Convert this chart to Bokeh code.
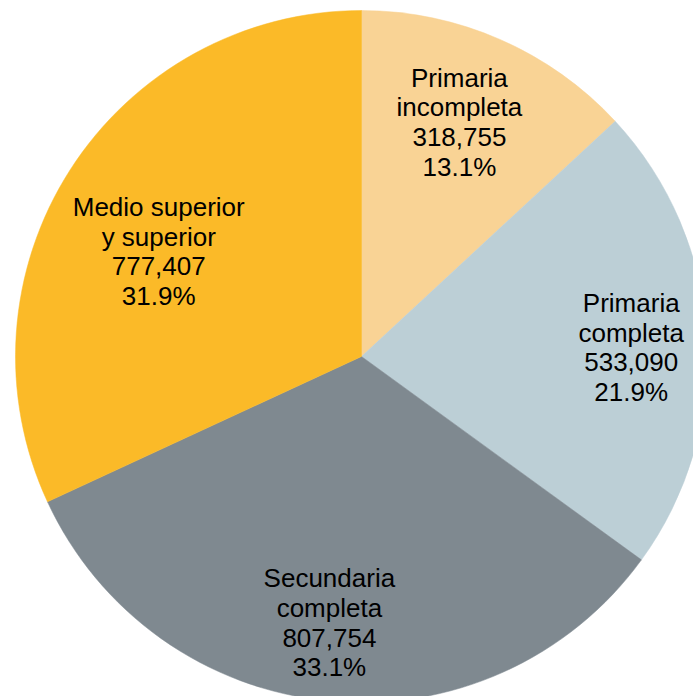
import math
from bokeh.plotting import figure
from bokeh.models import Range1d, ColumnDataSource
from bokeh.core.properties import value
from bokeh.embed import file_html
from bokeh.resources import INLINE

# Data
categories = ["Primaria\nincompleta", "Primaria\ncompleta", "Secundaria\ncompleta", "Medio superior\ny superior"]
counts = [318755, 533090, 807754, 777407]
percents = [13.1, 21.9, 33.1, 31.9]
colors = ["#F9D395", "#BCCFD6", "#7F8990", "#FBBA28"]

# Label placement styling (fraction of radius, angle tweak in degrees)
label_rfrac = [0.734, 0.780, 0.775, 0.660]
label_dang = [0.9, -1.5, -1.3, 5.2]

W, H = 693, 696
cx, cy, R = 361, 340, 346

total = sum(percents)
starts, ends, lx, ly, texts = [], [], [], [], []
cum = 0.0
for i, pct in enumerate(percents):
    a0 = math.pi / 2 - 2 * math.pi * cum / total
    cum += pct
    a1 = math.pi / 2 - 2 * math.pi * cum / total
    starts.append(a0)
    ends.append(a1)
    mid = (a0 + a1) / 2 + math.radians(label_dang[i])
    r = R * label_rfrac[i]
    lx.append(cx + r * math.cos(mid))
    ly.append(cy + r * math.sin(mid))
    texts.append(f"{categories[i]}\n{counts[i]:,}\n{pct:.1f}%")

src = ColumnDataSource(dict(start=starts, end=ends, color=colors))
lsrc = ColumnDataSource(dict(x=lx, y=ly, text=texts))

p = figure(width=W, height=H, output_backend="svg", toolbar_location=None,
           x_range=Range1d(0, W), y_range=Range1d(0, H), min_border=0)
p.axis.visible = False
p.grid.visible = False
p.outline_line_color = None
p.background_fill_color = "white"

p.wedge(x=cx, y=cy, radius=R, start_angle="start", end_angle="end",
        direction="clock", fill_color="color", line_color="color", line_width=0.5, source=src)

p.text(x="x", y="y", text="text", source=lsrc, text_align="center",
       text_baseline="middle", text_font=value("Liberation Sans"),
       text_font_size="26px", text_line_height=0.99, text_color="#000000")

open("out.html", "w").write(file_html(p, INLINE))
